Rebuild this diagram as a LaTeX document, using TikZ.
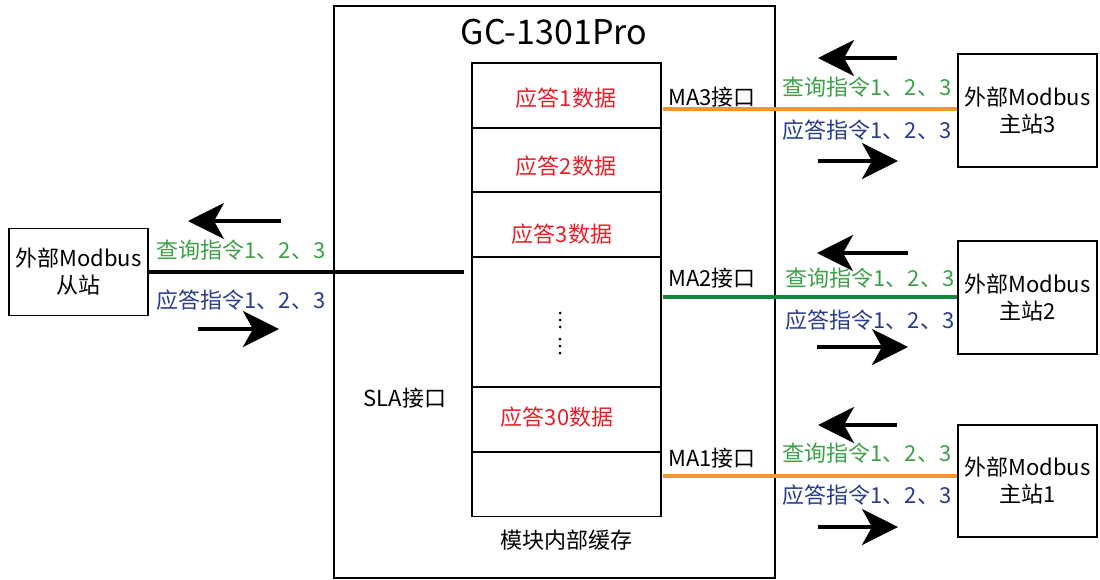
\documentclass[tikz,border=0pt]{standalone}
\usepackage{fontspec}
\setmainfont{Noto Sans CJK SC}
\usetikzlibrary{positioning,arrows.meta}
\definecolor{querygreen}{RGB}{60,160,70}
\definecolor{answerblue}{RGB}{40,60,140}
\definecolor{datared}{RGB}{230,30,40}
\definecolor{busorange}{RGB}{240,150,50}
\definecolor{busgreen}{RGB}{20,135,60}
\tikzset{
    x=1pt,
    y=-1pt,
    every node/.style = {
        font=\fontsize{22}{27}\selectfont,
        inner sep=0pt
    },
    device/.style = {
        draw,
        shape=rectangle,
        minimum width=139pt,
        minimum height=113pt,
        line width=1.5pt,
        align=center
    },
    module/.style = {
        draw,
        shape=rectangle,
        minimum width=441pt,
        minimum height=572pt,
        line width=1.5pt
    },
    cell/.style = {
        draw,
        shape=rectangle,
        minimum width=189pt,
        minimum height=65pt,
        line width=1.5pt
    },
    query/.style = {text=querygreen},
    answer/.style = {text=answerblue},
    data/.style = {text=datared},
    flow/.style = {
        line width=4pt,
        -{Stealth[length=36pt,width=36pt,inset=10pt]}
    },
    bus/.style = {line width=3.2pt},
}

\begin{document}
\begin{tikzpicture}
            \useasboundingbox (0,0) rectangle (1100,579);

            \node[module] (gc) at (554.5,292) {};
            \node[font=\fontsize{34}{36}\selectfont] (title) at (554,32) {GC-1301Pro};

            \node[cell] (cell1) at (566.5,95.5) {};
            \node[cell] (cell2) at (566.5,160) {};
            \node[cell] (cell3) at (566.5,224.5) {};
            \node[cell, minimum height=130pt] (cell4) at (566.5,322) {};
            \node[cell] (cell5) at (566.5,419.5) {};
            \node[cell] (cell6) at (566.5,484) {};
            \node[data] (data1) at (566,98) {应答1数据};
            \node[data] (data2) at (566,166) {应答2数据};
            \node[data] (data3) at (562,234) {应答3数据};
            \node[data] (data30) at (557,417) {应答30数据};
            \foreach \y in {313,320,327,339,346,353}
                \fill (560,\y) circle (1.5pt);
            \node (cache) at (566,540) {模块内部缓存};

            \node (sla) at (405,398) {SLA接口};
            \node (ma3) at (712,97) {MA3接口};
            \node (ma2) at (712,278) {MA2接口};
            \node (ma1) at (712,458) {MA1接口};

            \node[device, minimum height=87pt] (slave) at (78.5,272) {外部Modbus\\从站};
            \node[device] (master3) at (1027.5,110.5) {外部Modbus\\主站3};
            \node[device] (master2) at (1027.5,297.5) {外部Modbus\\主站2};
            \node[device, minimum height=112pt] (master1) at (1027.5,481) {外部Modbus\\主站1};

            \coordinate (slaend) at (464,272);
            \coordinate (ma3start) at (663,109);
            \coordinate (ma2start) at (663,297);
            \coordinate (ma1start) at (663,476);

            \path[draw, bus] (slave.east) -- (slaend);
            \path[draw, bus, busorange] (ma3start) -- (master3.west |- ma3start);
            \path[draw, bus, busgreen] (ma2start) -- (master2.west |- ma2start);
            \path[draw, bus, busorange] (ma1start) -- (master1.west |- ma1start);

            \node[query] (slquery) at (241,250) {查询指令1、2、3};
            \node[answer] (slanswer) at (241,300) {应答指令1、2、3};
            \node[query] (m3query) at (867,87) {查询指令1、2、3};
            \node[answer] (m3answer) at (867,130) {应答指令1、2、3};
            \node[query] (m2query) at (870,278) {查询指令1、2、3};
            \node[answer] (m2answer) at (870,320) {应答指令1、2、3};
            \node[query] (m1query) at (867,453) {查询指令1、2、3};
            \node[answer] (m1answer) at (867,495) {应答指令1、2、3};

            \coordinate (slqfrom) at (281,221);
            \coordinate (slqto) at (188,221);
            \coordinate (slafrom) at (198,329);
            \coordinate (slato) at (279,329);
            \coordinate (m3qfrom) at (897,58);
            \coordinate (m3qto) at (818,58);
            \coordinate (m3afrom) at (818,161);
            \coordinate (m3ato) at (898,161);
            \coordinate (m2qfrom) at (908,253);
            \coordinate (m2qto) at (817,253);
            \coordinate (m2afrom) at (817,347);
            \coordinate (m2ato) at (908,347);
            \coordinate (m1qfrom) at (897,425);
            \coordinate (m1qto) at (818,425);
            \coordinate (m1afrom) at (818,527);
            \coordinate (m1ato) at (898,527);

            \path[draw, flow] (slqfrom) -- (slqto);
            \path[draw, flow] (slafrom) -- (slato);
            \path[draw, flow] (m3qfrom) -- (m3qto);
            \path[draw, flow] (m3afrom) -- (m3ato);
            \path[draw, flow] (m2qfrom) -- (m2qto);
            \path[draw, flow] (m2afrom) -- (m2ato);
            \path[draw, flow] (m1qfrom) -- (m1qto);
            \path[draw, flow] (m1afrom) -- (m1ato);

        \end{tikzpicture}
\end{document}
